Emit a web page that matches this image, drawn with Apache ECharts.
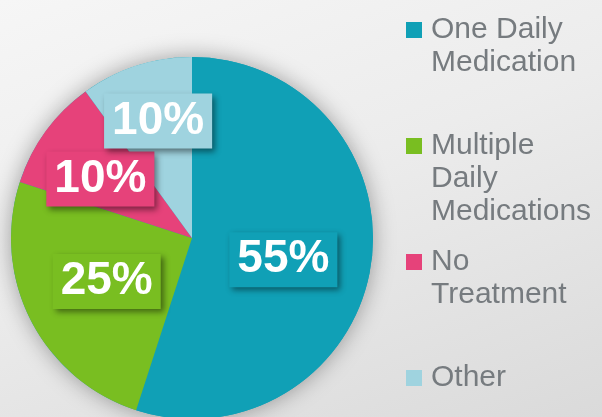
<!DOCTYPE html>
<html>
<head>
<meta charset="utf-8">
<script src="https://cdn.jsdelivr.net/npm/echarts@6/dist/echarts.min.js"></script>
<style>
  html, body { margin: 0; padding: 0; }
  #main {
    width: 602px; height: 417px;
    background: linear-gradient(160deg, #f6f6f6 0%, #ececec 45%, #dadada 100%);
  }
</style>
</head>
<body>
<div id="main"></div>
<script>
// data
var categories = ['One Daily Medication', 'Multiple Daily Medications', 'No Treatment', 'Other'];
var legendLines = [['One Daily', 'Medication'], ['Multiple', 'Daily', 'Medications'], ['No', 'Treatment'], ['Other']];
var values = [55, 25, 10, 10];

var colors = ['#10a0b6', '#79be21', '#e6427a', '#9fd3df'];
// small nudges of the % boxes away from the default inside spot
var labelNudge = [[-1, 7], [-2, 1], [-16, -4], [-5, -28]];
var lineH = 33;

var chart = echarts.init(document.getElementById('main'));

var pieData = categories.map(function (name, i) {
  return {
    name: name,
    value: values[i],
    itemStyle: { color: colors[i] },
    label: { backgroundColor: colors[i] }
  };
});

// legend text is centred on the square, so pad every item to 5 lines
// with the first real line in the middle -> same height, first line level with square
function legendText(lines) {
  var out = ['', ''].concat(lines);
  while (out.length < 5) out.push('');
  return out.join('\n');
}

chart.setOption({
  animation: false,
  color: colors,
  legend: {
    orient: 'vertical',
    left: 406,
    top: -52.5,
    height: 800,
    padding: 0,
    itemGap: -49,
    itemWidth: 16,
    itemHeight: 16,
    icon: 'rect',
    selectedMode: false,
    data: categories,
    formatter: function (name) {
      return legendText(legendLines[categories.indexOf(name)]);
    },
    textStyle: {
      color: '#767b7f',
      fontSize: 30,
      lineHeight: lineH,
      padding: [0, 0, 0, 4],
      fontFamily: 'Liberation Sans'
    }
  },
  series: [
    { // soft shadow behind the disc
      type: 'pie',
      z: 1,
      silent: true,
      center: [192, 238],
      radius: 181,
      label: { show: false },
      labelLine: { show: false },
      emphasis: { disabled: true },
      data: [{ value: 1, name: 'backdrop', itemStyle: { color: '#10a0b6', shadowBlur: 22, shadowColor: 'rgba(0,0,0,0.35)' } }]
    },
    {
      type: 'pie',
      z: 2,
      center: [192, 238],
      radius: 181,
      startAngle: 90,
      clockwise: true,
      emphasis: { disabled: true },
      itemStyle: { borderWidth: 0 },
      label: {
        show: true,
        position: 'inside',
        formatter: '{c}%',
        color: '#ffffff',
        fontSize: 46,
        fontWeight: 'bold',
        fontFamily: 'Liberation Sans',
        padding: [5, 8, 4, 8],
        shadowBlur: 6,
        shadowOffsetX: 3,
        shadowOffsetY: 3,
        shadowColor: 'rgba(0,0,0,0.45)'
      },
      labelLine: { show: false },
      labelLayout: function (params) {
        var d = labelNudge[params.dataIndex];
        return { dx: d[0], dy: d[1] };
      },
      data: pieData
    }
  ]
});
</script>
</body>
</html>
